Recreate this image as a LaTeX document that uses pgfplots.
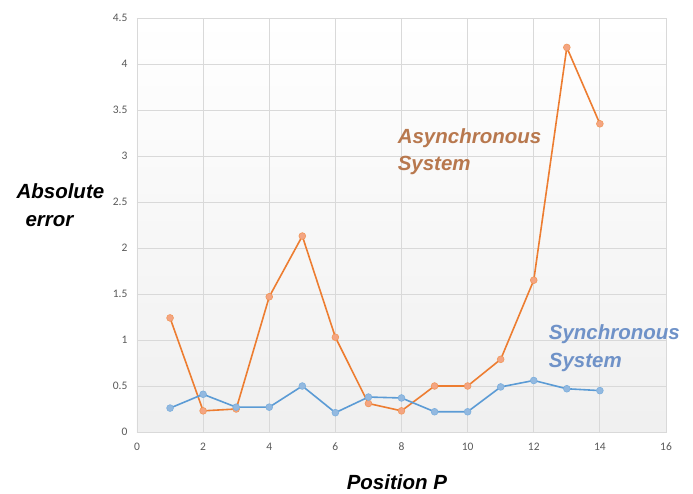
\documentclass[border=0pt]{standalone}
\usepackage{fontspec}
\setmainfont{Liberation Sans}
\newfontfamily\tickfont{Carlito}
\usepackage{pgfplots}
\pgfplotsset{compat=1.18}

\definecolor{asyn}{HTML}{ED7D31}
\definecolor{asynfill}{HTML}{F4A582}
\definecolor{syn}{HTML}{5B9BD5}
\definecolor{synfill}{HTML}{93B9E0}
\definecolor{gridc}{HTML}{D9D9D9}
\definecolor{tickc}{HTML}{595959}
\definecolor{asyntxt}{HTML}{B8784E}
\definecolor{syntxt}{HTML}{6F92C8}

\begin{document}
\begin{tikzpicture}[x=1pt,y=1pt]
	\begin{axis}[
		at={(0,0)}, anchor=south west,
		scale only axis,
		width=529pt, height=414pt,
		xmin=0, xmax=16, ymin=0, ymax=4.5,
		xtick={0,2,...,16},
		ytick={0,0.5,...,4.5},
		major tick length=0pt,
		grid=major,
		grid style={gridc, line width=0.8pt},
		axis line style={gridc, line width=0.8pt},
		axis background/.style={top color=white, bottom color=black!6},
		tick label style={font=\tickfont\fontsize{11.5}{12}\selectfont, text=tickc},
		/pgf/number format/assume math mode=true,
		xticklabel style={yshift=-8pt, text height=7pt, text depth=0pt},
		yticklabel style={xshift=-6pt},
		clip=false,
		]
		\addplot[asyn, line width=1.6pt, mark=*, mark size=3.4pt,
			mark options={fill=asynfill, draw=asyn!80, line width=0.6pt}]
			coordinates {(1,1.24) (2,0.23) (3,0.25) (4,1.47) (5,2.13) (6,1.03) (7,0.31)
				(8,0.23) (9,0.50) (10,0.50) (11,0.79) (12,1.65) (13,4.18) (14,3.35)};
		\addplot[syn, line width=1.6pt, mark=*, mark size=3.4pt,
			mark options={fill=synfill, draw=syn!80, line width=0.6pt}]
			coordinates {(1,0.26) (2,0.41) (3,0.27) (4,0.27) (5,0.50) (6,0.21) (7,0.38)
				(8,0.37) (9,0.22) (10,0.22) (11,0.49) (12,0.56) (13,0.47) (14,0.45)};
		\node[anchor=west, align=left, text=asyntxt, font=\bfseries\itshape\fontsize{20.5}{27}\selectfont]
			at (axis cs:7.78,3.05) {Asynchronous\\System};
		\node[anchor=west, align=left, text=syntxt, font=\bfseries\itshape\fontsize{20.5}{28}\selectfont]
			at (axis cs:12.35,0.91) {Synchronous\\System};
		\node[anchor=west, align=left, font=\bfseries\itshape\fontsize{20.5}{28}\selectfont]
			at (axis cs:-3.75,2.47) {Absolute\\\hspace*{9pt}error};
		\node[font=\bfseries\itshape\fontsize{20.5}{24}\selectfont]
			at (axis cs:7.86,-0.55) {Position P};
	\end{axis}
	\path (-137,-61) rectangle (556,432);
\end{tikzpicture}
\end{document}
